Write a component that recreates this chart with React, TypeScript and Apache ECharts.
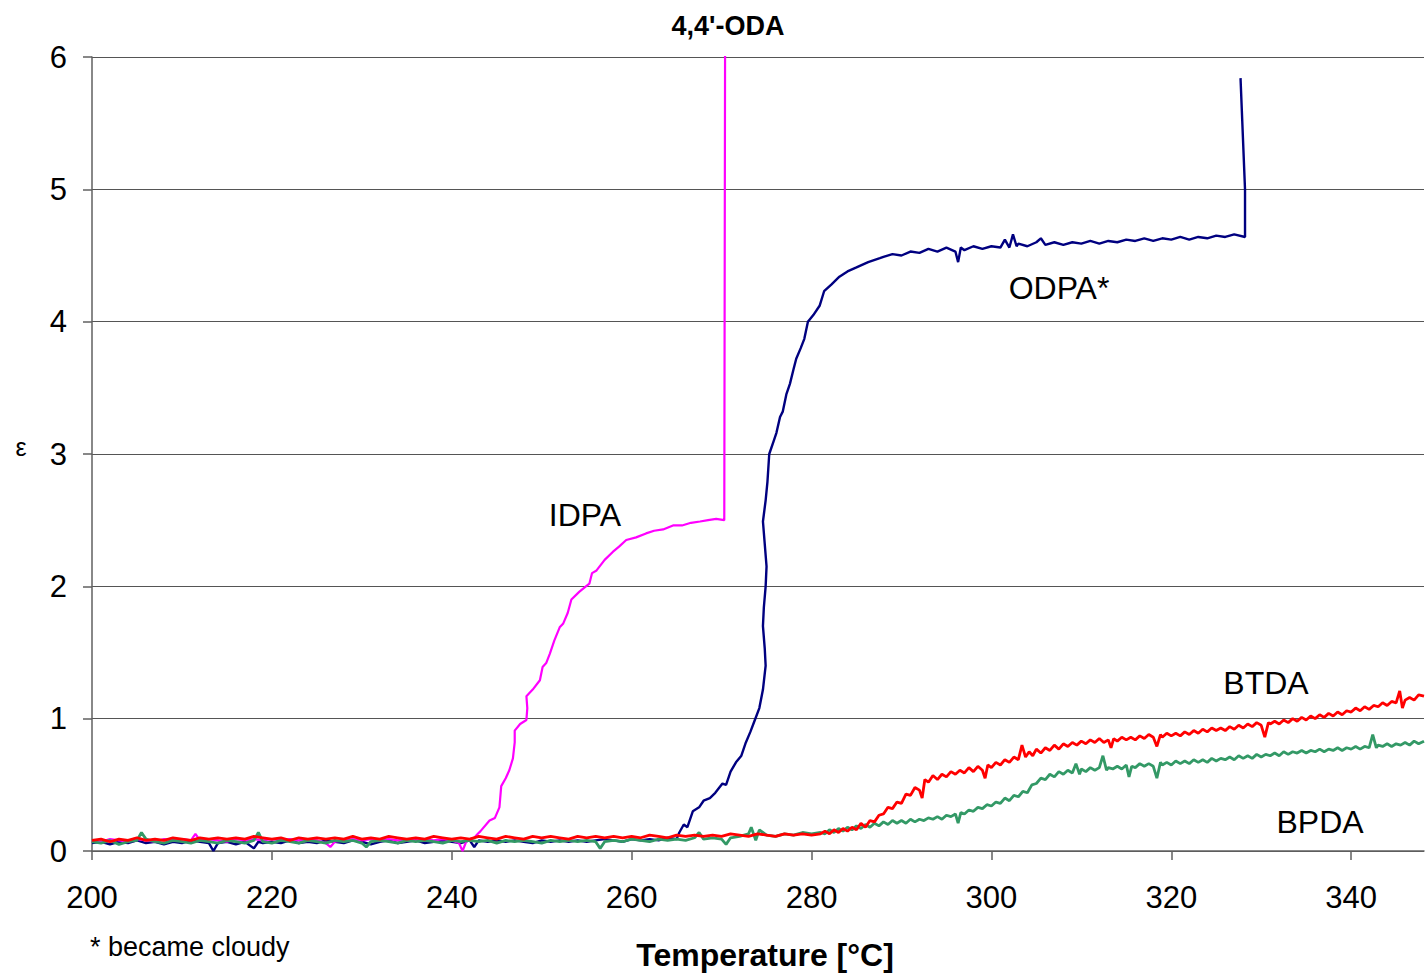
import React, { useEffect, useRef } from "react";
import * as echarts from "echarts";

const titleText = "4,4'-ODA";
const xAxisTitle = "Temperature [°C]";
const yAxisTitle = "ε";
const footnote = "* became cloudy";
const seriesNames = ["ODPA*", "IDPA", "BPDA", "BTDA"];

const odpa: number[][] = [
  [200,0.06],[201,0.07],[202,0.05],[203,0.07],[204,0.06],[205,0.08],[206,0.06],[207,0.07],[208,0.05],[209,0.07],[210,0.06],[211,0.08],[212,0.07],[213,0.06],[213.5,0.0],[214,0.06],[215,0.07],[216,0.05],[217,0.07],[218,0.02],[218.5,0.07],[219,0.06],[220,0.07],[221,0.06],[222,0.08],[223,0.06],[224,0.07],[225,0.06],[226,0.08],[227,0.07],[228,0.06],[229,0.08],[230,0.07],[231,0.05],[232,0.07],[233,0.08],[234,0.06],[235,0.07],[236,0.08],[237,0.06],[238,0.07],[239,0.08],[240,0.07],[241,0.06],[242,0.08],[242.5,0.03],[243,0.08],[244,0.07],[245,0.08],[246,0.07],[247,0.08],[248,0.07],[249,0.06],[250,0.08],[251,0.07],[252,0.08],[253,0.07],[254,0.08],[255,0.07],[256,0.08],[257,0.09],[258,0.08],[259,0.07],[260,0.09],[261,0.08],[262,0.09],[263,0.08],[264,0.10],[265,0.09],
  [265.3,0.14],[265.8,0.2],[266.2,0.18],[266.8,0.30],[267.5,0.33],[268.0,0.38],[268.7,0.40],[269.3,0.44],[270.1,0.51],[270.5,0.50],[271.0,0.60],[271.6,0.67],[272.2,0.72],[272.7,0.82],[273.2,0.90],[273.7,0.99],[274.2,1.08],[274.6,1.22],[274.9,1.40],[274.8,1.53],[274.6,1.70],[274.7,1.84],[274.9,2.00],[275.0,2.15],[274.8,2.32],[274.6,2.49],[274.9,2.65],[275.1,2.79],[275.3,3.00],[275.8,3.10],[276.1,3.16],[276.5,3.28],[276.8,3.32],[277.2,3.45],[277.6,3.53],[278.0,3.64],[278.3,3.72],[278.8,3.80],[279.2,3.87],[279.6,4.00],[280.2,4.05],[280.9,4.12],[281.4,4.23],[282.2,4.28],[283.1,4.34],[284.0,4.38],[285.0,4.41],[286.3,4.45],[287.6,4.48],
  [288,4.49],[289,4.51],[290,4.50],[291,4.53],[292,4.52],[293,4.55],[294,4.53],[295,4.56],[296,4.53],[296.3,4.45],[296.6,4.56],[297,4.54],[298,4.57],[299,4.55],[300,4.57],[301,4.56],[301.5,4.62],[302,4.56],[302.4,4.66],[302.8,4.57],[303,4.59],[304,4.57],[305,4.60],[305.5,4.63],[306,4.58],[307,4.60],[308,4.58],[309,4.60],[310,4.59],[311,4.61],[312,4.59],[313,4.61],[314,4.60],[315,4.62],[316,4.61],[317,4.63],[318,4.61],[319,4.63],[320,4.62],[321,4.64],[322,4.62],[323,4.64],[324,4.63],[325,4.65],[326,4.64],[327,4.66],[328.2,4.64],[328.2,5.0],[327.7,5.84]
];

const idpa: number[][] = [
  [200,0.08],[201,0.07],[202,0.09],[203,0.08],[204,0.07],[205,0.09],[206,0.08],[207,0.07],[208,0.09],[209,0.08],[210,0.09],[211,0.08],[211.5,0.13],[212,0.08],[213,0.09],[214,0.08],[215,0.07],[216,0.09],[217,0.08],[218,0.09],[219,0.08],[220,0.09],[221,0.08],[222,0.09],[223,0.08],[224,0.09],[225,0.08],[226,0.06],[226.5,0.03],[227,0.07],[228,0.08],[229,0.09],[230,0.08],[231,0.09],[232,0.08],[233,0.09],[234,0.08],[235,0.09],[236,0.08],[237,0.09],[238,0.08],[239,0.09],[240,0.08],[240.8,0.06],[241.2,0.0],[241.6,0.07],[242,0.09],[242.5,0.1],[242.9,0.13],[243.2,0.15],[244.2,0.23],[244.8,0.25],[245.3,0.33],[245.5,0.49],[246.0,0.55],[246.4,0.61],[246.8,0.70],[247.0,0.82],[247.0,0.91],[247.6,0.96],[248.3,0.99],[248.4,1.08],[248.3,1.17],[249.0,1.22],[249.8,1.29],[250.1,1.39],[250.5,1.42],[250.9,1.49],[251.4,1.59],[252.0,1.69],[252.4,1.72],[252.9,1.80],[253.3,1.90],[254.2,1.96],[255.3,2.02],[255.6,2.10],[256.1,2.12],[257.0,2.20],[257.9,2.26],[258.6,2.30],[259.4,2.35],[260.5,2.37],[261.6,2.40],[262.5,2.42],[263.5,2.43],[264.6,2.46],[265.6,2.46],[266.6,2.48],[267.6,2.49],[268.5,2.50],[269.4,2.51],[270.3,2.50],[270.4,6.5]
];

const btda: number[][] = [
  [200,0.08],[201,0.09],[202,0.07],[203,0.09],[204,0.08],[205,0.10],[206,0.08],[207,0.09],[208,0.08],[209,0.10],[210,0.09],[211,0.08],[212,0.10],[213,0.09],[214,0.10],[215,0.09],[216,0.10],[217,0.09],[218,0.11],[219,0.10],[220,0.09],[221,0.10],[222,0.08],[223,0.10],[224,0.09],[225,0.10],[226,0.09],[227,0.10],[228,0.09],[229,0.11],[230,0.09],[231,0.10],[232,0.09],[233,0.11],[234,0.10],[235,0.09],[236,0.10],[237,0.09],[238,0.11],[239,0.10],[240,0.09],[241,0.10],[242,0.09],[243,0.11],[244,0.10],[245,0.09],[246,0.11],[247,0.10],[248,0.09],[249,0.11],[250,0.10],[251,0.11],[252,0.10],[253,0.09],[254,0.11],[255,0.10],[256,0.11],[257,0.10],[258,0.11],[259,0.10],[260,0.11],[261,0.10],[262,0.12],[263,0.11],[264,0.10],[265,0.12],[266,0.11],[267,0.12],[268,0.11],[269,0.12],[270,0.11],[271,0.13],[272,0.12],[273,0.11],[274,0.13],[275,0.12],[276,0.11],[277,0.13],[278,0.12],[279,0.13],[280,0.12],
  [281,0.13],[281.5,0.15],[282,0.13],[282.5,0.16],[283,0.14],[283.5,0.17],[284,0.15],[284.5,0.18],[285,0.16],[285.5,0.21],[286,0.18],[286.5,0.23],[287,0.22],[287.5,0.27],[288,0.28],[288.5,0.33],[289,0.32],[289.5,0.37],[290,0.36],[290.5,0.43],[291,0.42],[291.5,0.48],[292,0.46],[292.3,0.40],[292.6,0.54],[293,0.52],[293.5,0.57],[294,0.54],[294.5,0.58],[295,0.56],[295.5,0.60],[296,0.58],[296.5,0.61],[297,0.59],[297.5,0.63],[298,0.60],[298.5,0.64],[299,0.61],[299.3,0.55],[299.6,0.65],[300,0.63],[300.5,0.67],[301,0.65],[301.5,0.69],[302,0.67],[302.5,0.71],[303,0.69],[303.4,0.80],[303.8,0.71],[304.2,0.75],[304.6,0.72],[305,0.77],[305.5,0.74],[306,0.78],[306.5,0.76],[307,0.80],[307.5,0.77],[308,0.81],[308.5,0.79],[309,0.82],[309.5,0.80],[310,0.83],[310.5,0.81],[311,0.84],[311.5,0.82],[312,0.85],[312.5,0.82],[313,0.84],[313.3,0.78],[313.6,0.85],[314,0.83],[314.5,0.86],[315,0.84],[315.5,0.86],[316,0.84],[316.5,0.87],[317,0.85],[317.5,0.88],[318,0.86],[318.4,0.79],[318.8,0.88],[319,0.86],[319.5,0.89],[320,0.87],[320.5,0.89],[321,0.87],[321.5,0.90],[322,0.88],[322.5,0.91],[323,0.89],[323.5,0.92],[324,0.90],[324.5,0.93],[325,0.91],[325.5,0.93],[326,0.91],[326.5,0.94],[327,0.92],[327.5,0.95],[328,0.93],[328.5,0.96],[329,0.94],[329.5,0.97],[330,0.95],[330.4,0.86],[330.8,0.97],[331,0.96],[331.5,0.98],[332,0.96],[332.5,0.99],[333,0.97],[333.5,1.00],[334,0.98],[334.5,1.01],[335,0.99],[335.5,1.02],[336,1.00],[336.5,1.03],[337,1.01],[337.5,1.04],[338,1.02],[338.5,1.05],[339,1.03],[339.5,1.06],[340,1.05],[340.5,1.08],[341,1.06],[341.5,1.09],[342,1.07],[342.5,1.10],[343,1.09],[343.5,1.12],[344,1.10],[344.5,1.13],[345,1.12],[345.4,1.21],[345.7,1.08],[346,1.14],[346.5,1.16],[347,1.14],[347.5,1.18],[348.1,1.17]
];

const bpda: number[][] = [
  [200,0.07],[201,0.06],[202,0.08],[203,0.05],[204,0.07],[205,0.08],[205.5,0.14],[206,0.09],[207,0.07],[208,0.06],[209,0.08],[210,0.07],[211,0.06],[212,0.08],[213,0.07],[214,0.06],[215,0.08],[216,0.07],[217,0.06],[218,0.08],[218.5,0.14],[219,0.07],[220,0.06],[221,0.08],[222,0.07],[223,0.06],[224,0.08],[225,0.07],[226,0.06],[227,0.08],[228,0.07],[229,0.08],[230,0.06],[230.5,0.03],[231,0.07],[232,0.08],[233,0.07],[234,0.06],[235,0.08],[236,0.07],[237,0.08],[238,0.07],[239,0.06],[240,0.08],[241,0.07],[242,0.08],[243,0.07],[244,0.08],[245,0.06],[246,0.08],[247,0.07],[248,0.08],[249,0.07],[250,0.06],[251,0.08],[252,0.07],[253,0.08],[254,0.07],[255,0.08],[256,0.07],[256.5,0.02],[257,0.07],[258,0.08],[259,0.07],[260,0.09],[261,0.08],[262,0.07],[263,0.09],[264,0.08],[265,0.09],[266,0.08],[267,0.10],[267.5,0.14],[268,0.09],[269,0.10],[270,0.09],[270.5,0.05],[271,0.10],[272,0.11],[273,0.13],[273.3,0.18],[273.8,0.08],[274.2,0.16],[275,0.12],[276,0.11],[277,0.13],[278,0.12],[279,0.14],[280,0.13],
  [281,0.14],[281.5,0.13],[282,0.16],[282.5,0.14],[283,0.17],[283.5,0.15],[284,0.18],[284.5,0.16],[285,0.19],[285.5,0.17],[286,0.20],[286.5,0.18],[287,0.21],[287.5,0.19],[288,0.22],[288.5,0.20],[289,0.23],[289.5,0.21],[290,0.23],[290.5,0.21],[291,0.24],[291.5,0.22],[292,0.24],[292.5,0.23],[293,0.25],[293.5,0.24],[294,0.26],[294.5,0.24],[295,0.27],[295.5,0.26],[296,0.28],[296.3,0.21],[296.6,0.29],[297,0.28],[297.5,0.31],[298,0.30],[298.5,0.33],[299,0.32],[299.5,0.35],[300,0.34],[300.5,0.37],[301,0.36],[301.5,0.40],[302,0.38],[302.5,0.42],[303,0.41],[303.5,0.45],[304,0.44],[304.5,0.50],[305,0.51],[305.5,0.55],[306,0.54],[306.5,0.58],[307,0.56],[307.5,0.60],[308,0.58],[308.5,0.61],[309,0.59],[309.4,0.66],[309.8,0.58],[310,0.62],[310.5,0.60],[311,0.63],[311.5,0.61],[312,0.63],[312.4,0.72],[312.8,0.61],[313,0.63],[313.5,0.62],[314,0.64],[314.5,0.62],[315,0.65],[315.3,0.56],[315.6,0.64],[316,0.63],[316.5,0.66],[317,0.64],[317.5,0.66],[318,0.64],[318.4,0.55],[318.8,0.67],[319,0.65],[319.5,0.67],[320,0.65],[320.5,0.68],[321,0.66],[321.5,0.68],[322,0.66],[322.5,0.69],[323,0.67],[323.5,0.69],[324,0.67],[324.5,0.70],[325,0.68],[325.5,0.70],[326,0.69],[326.5,0.71],[327,0.69],[327.5,0.72],[328,0.70],[328.5,0.72],[329,0.70],[329.5,0.73],[330,0.71],[330.5,0.73],[331,0.72],[331.5,0.74],[332,0.72],[332.5,0.75],[333,0.73],[333.5,0.75],[334,0.74],[334.5,0.76],[335,0.74],[335.5,0.76],[336,0.75],[336.5,0.77],[337,0.75],[337.5,0.77],[338,0.76],[338.5,0.78],[339,0.76],[339.5,0.78],[340,0.77],[340.5,0.79],[341,0.77],[341.5,0.79],[342,0.78],[342.4,0.88],[342.8,0.78],[343,0.80],[343.5,0.79],[344,0.81],[344.5,0.79],[345,0.81],[345.5,0.80],[346,0.82],[346.5,0.80],[347,0.83],[347.5,0.81],[348.1,0.83]
];

const FONT = "'Liberation Sans', Arial, sans-serif";

export default function App() {
  const ref = useRef<HTMLDivElement>(null);
  useEffect(() => {
    if (!ref.current) return;
    const chart = echarts.init(ref.current, null, { renderer: "svg" });
    const lineSeries = (name: string, data: number[][], color: string, width: number) => ({
      name,
      type: "line",
      data,
      showSymbol: false,
      symbol: "none",
      lineStyle: { color, width },
      itemStyle: { color },
      clip: true,
    });
    const label = (text: string, x: number, y: number, size: number) => ({
      type: "text",
      x,
      y,
      style: { text, font: `${size}px ${FONT}`, fill: "#000", align: "center", verticalAlign: "middle" },
    });
    chart.setOption({
      animation: false,
      backgroundColor: "#ffffff",
      textStyle: { fontFamily: FONT },
      grid: { left: 92, top: 57, right: 1, bottom: 123, containLabel: false },
      xAxis: {
        type: "value",
        min: 200,
        max: 348.1,
        interval: 20,
        axisLine: { show: true, lineStyle: { color: "#606060", width: 1.5 } },
        axisTick: { show: true, length: 9, lineStyle: { color: "#606060", width: 1.5 } },
        axisLabel: {
          color: "#000",
          fontSize: 31,
          fontFamily: FONT,
          margin: 31,
          showMaxLabel: false,
        },
        splitLine: { show: false },
      },
      yAxis: {
        type: "value",
        min: 0,
        max: 6,
        interval: 1,
        axisLine: { show: true, lineStyle: { color: "#606060", width: 1.5 } },
        axisTick: { show: true, length: 9, lineStyle: { color: "#606060", width: 1.5 } },
        axisLabel: { color: "#000", fontSize: 31, fontFamily: FONT, margin: 25 },
        splitLine: { show: true, lineStyle: { color: "#555555", width: 1.2 } },
      },
      graphic: [
        { type: "text", x: 728, y: 26, style: { text: titleText, font: `bold 27px ${FONT}`, fill: "#000", align: "center", verticalAlign: "middle" } },
        { type: "text", x: 765, y: 955, style: { text: xAxisTitle, font: `bold 32px ${FONT}`, fill: "#000", align: "center", verticalAlign: "middle" } },
        label(yAxisTitle, 21, 447, 25),
        { type: "text", x: 90, y: 947, style: { text: footnote, font: `27px ${FONT}`, fill: "#000", align: "left", verticalAlign: "middle" } },
        label(seriesNames[1], 585, 515, 32),
        label(seriesNames[0], 1059, 288, 32),
        label(seriesNames[3], 1266, 683, 32),
        label(seriesNames[2], 1320, 822, 32),
      ],
      series: [
        lineSeries(seriesNames[0], odpa, "#000080", 2.4),
        lineSeries(seriesNames[1], idpa, "#FF00FF", 2.2),
        lineSeries(seriesNames[2], bpda, "#339966", 2.8),
        lineSeries(seriesNames[3], btda, "#FF0000", 2.8),
      ],
    });
    return () => chart.dispose();
  }, []);
  return (
    <div
      ref={ref}
      style={{ position: "absolute", left: 0, top: 0, width: 1425, height: 974 }}
    />
  );
}
